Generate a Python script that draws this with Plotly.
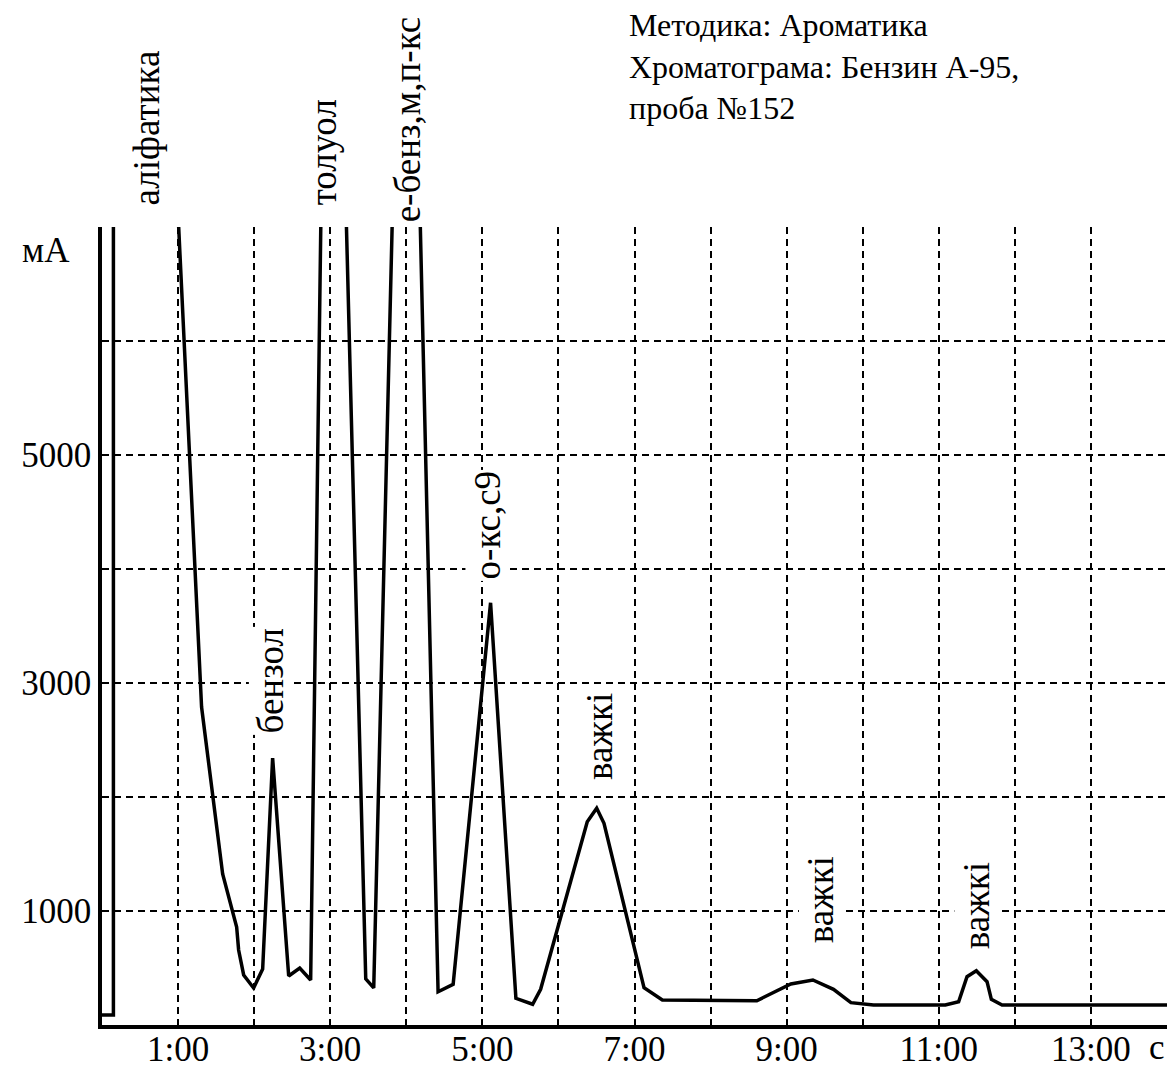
import plotly.graph_objects as go

# ---- data (time in minutes, signal in mA units) ----
time_min = [0.0, 0.15, 0.15, 1.309, 1.586, 1.770, 1.796, 1.862, 1.993, 2.112,
            2.243, 2.454, 2.599, 2.743, 2.992, 3.467, 3.572, 4.003, 4.418, 4.616,
            5.108, 5.441, 5.661, 5.766, 6.379, 6.503, 6.599, 7.125, 7.366, 8.608,
            9.055, 9.345, 9.616, 9.845, 10.142, 11.086, 11.261, 11.371, 11.493, 11.634,
            11.691, 11.832, 14.0]
signal = [88, 88, 19000, 2789, 1325, 860, 658, 439, 325, 491,
          2342, 430, 500, 395, 12760, 404, 325, 12220, 292, 357,
          3704, 234, 182, 313, 1783, 1901, 1769, 327, 219, 213,
          360, 395, 313, 196, 175, 175, 204, 424, 476, 380,
          225, 175, 175]

peak_labels = ["аліфатика", "бензол", "толуол", "е-бенз,м,п-кс", "о-кс,с9",
               "важкі", "важкі", "важкі"]
label_time = [0.59, 2.22, 2.91, 4.02, 5.07, 6.55, 9.45, 11.49]
label_level = [7000, 2342, 7000, 7000, 3704, 1901, 395, 476]

y_grid = [1000, 2000, 3000, 4000, 5000, 6000, 7000]
y_ticktext = ["1000", "", "3000", "", "5000", "", ""]
x_grid = list(range(1, 15))
x_ticktext = ["1:00", "", "3:00", "", "5:00", "", "7:00", "", "9:00", "",
              "11:00", "", "13:00", ""]

title_lines = ["Методика: Ароматика", "Хроматограма: Бензин А-95,", "проба №152"]
y_unit = "мА"
x_unit = "с"

# ---- styles ----
FONT = "Liberation Serif"
label_shift = [20, 23, 20, 3, 21, 26, 35, 19]

fig = go.Figure()
fig.add_trace(go.Scatter(x=time_min, y=signal, mode="lines",
                         line=dict(color="black", width=3.5), hoverinfo="skip",
                         showlegend=False))

grid_style = dict(showgrid=True, gridcolor="black", gridwidth=1.8,
                  griddash="7px,5px", zeroline=False, ticks="",
                  showline=True, linecolor="black", linewidth=3.5,
                  tickfont=dict(family=FONT, size=35, color="black"))

fig.update_xaxes(range=[0, 14], tickmode="array", tickvals=x_grid,
                 ticktext=x_ticktext, ticklabelstandoff=-10, **grid_style)
fig.update_yaxes(range=[0, 7000], tickmode="array", tickvals=y_grid,
                 ticktext=y_ticktext, ticklabelstandoff=0, **grid_style)

annotations = []
for txt, t, lv, sh in zip(peak_labels, label_time, label_level, label_shift):
    annotations.append(dict(x=t, y=lv, xref="x", yref="y", text=txt,
                            textangle=-90, showarrow=False, xanchor="center",
                            yanchor="bottom", yshift=sh, bgcolor="white",
                            borderpad=1,
                            font=dict(family=FONT, size=37, color="black")))

annotations.append(dict(x=0.494, y=1.2765, xref="paper", yref="paper",
                        text="<br>".join(title_lines), showarrow=False,
                        xanchor="left", yanchor="top", align="left",
                        borderpad=0,
                        font=dict(family=FONT, size=32, color="black")))
annotations.append(dict(x=-0.053, y=0.971, xref="paper", yref="paper",
                        text=y_unit, showarrow=False, xanchor="center",
                        yanchor="middle",
                        font=dict(family=FONT, size=35, color="black")))
annotations.append(dict(x=0.991, y=-0.0288, xref="paper", yref="paper",
                        text=x_unit, showarrow=False, xanchor="center",
                        yanchor="middle",
                        font=dict(family=FONT, size=35, color="black")))

# page body adds an 8px offset, so the figure is 8px smaller than the window
fig.update_layout(width=1167, height=1062, plot_bgcolor="white",
                  paper_bgcolor="white",
                  margin=dict(l=94, r=8, t=219, b=45, autoexpand=False),
                  annotations=annotations, showlegend=False)

fig.write_html("out.html")
